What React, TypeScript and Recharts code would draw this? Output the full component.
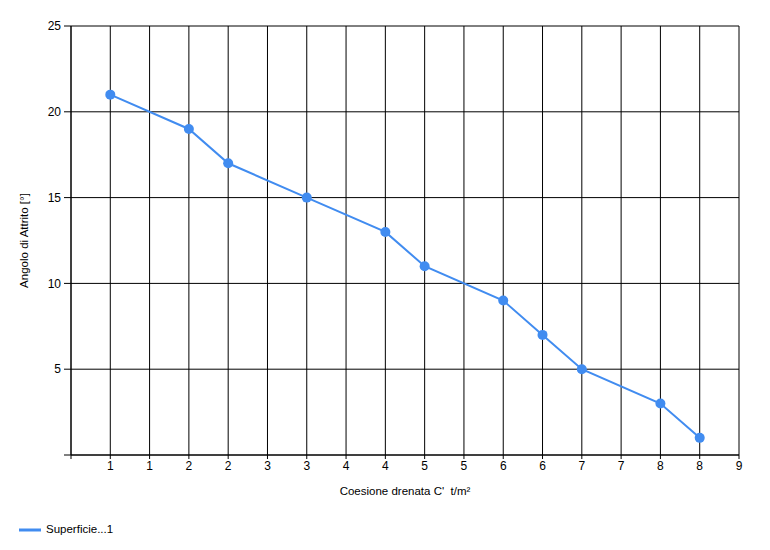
import React from 'react';
import { LineChart, Line, XAxis, YAxis, CartesianGrid, Legend } from 'recharts';

const xValues = [0.5, 1.5, 2, 3, 4, 4.5, 5.5, 6, 6.5, 7.5, 8];
const yValues = [21, 19, 17, 15, 13, 11, 9, 7, 5, 3, 1];
const xTicks = [0, 0.5, 1, 1.5, 2, 2.5, 3, 3.5, 4, 4.5, 5, 5.5, 6, 6.5, 7, 7.5, 8, 8.5];
const yTicks = [0, 5, 10, 15, 20, 25];
const seriesName = 'Superficie...1';
const xTitle = "Coesione drenata C'  t/m²";
const yTitle = 'Angolo di Attrito [°]';

const data = xValues.map((x, i) => ({ x, y: yValues[i] }));

const FONT = '"Liberation Sans", Arial, sans-serif';
const COLOR = '#418CF0';

const LegendContent = () => (
  <div style={{ height: 30, position: 'relative', fontFamily: FONT, fontSize: 11.5, color: '#000' }}>
    <svg width={30} height={10} style={{ position: 'absolute', left: 18, top: 5 }}>
      <line x1={1} y1={5} x2={23} y2={5} stroke={COLOR} strokeWidth={3} />
    </svg>
    <span style={{ position: 'absolute', left: 46, top: 3 }}>{seriesName}</span>
  </div>
);

export default function App() {
  return (
    <div style={{ position: 'absolute', left: 0, top: 0, width: 770, height: 550, background: '#fff' }}>
      <LineChart
        width={770}
        height={550}
        data={data}
        margin={{ top: 26, right: 31, left: 0, bottom: 0 }}
      >
        <CartesianGrid stroke="#000" strokeWidth={1} />
        <XAxis
          type="number"
          dataKey="x"
          domain={[0, 8.5]}
          ticks={xTicks}
          interval={0}
          height={65}
          tickSize={4}
          tickMargin={2}
          tickFormatter={(v: number) => (v === 0 ? '' : String(Math.round(v)))}
          tick={{ fill: '#000', fontSize: 12, fontFamily: FONT }}
          axisLine={{ stroke: '#000' }}
          tickLine={{ stroke: '#000' }}
          label={{
            content: (props: any) => {
              const vb = props.viewBox || {};
              return (
                <text
                  x={vb.x + vb.width / 2}
                  y={vb.y + 40}
                  textAnchor="middle"
                  fontSize={11.5}
                  fontFamily={FONT}
                  fill="#000"
                  style={{ whiteSpace: 'pre' }}
                >
                  {xTitle}
                </text>
              );
            },
          }}
        />
        <YAxis
          type="number"
          dataKey="y"
          domain={[0, 25]}
          ticks={yTicks}
          interval={0}
          width={71}
          tickSize={7}
          tickMargin={3}
          tickFormatter={(v: number) => (v === 0 ? '' : String(v))}
          tick={{ fill: '#000', fontSize: 12, fontFamily: FONT }}
          axisLine={{ stroke: '#000' }}
          tickLine={{ stroke: '#000' }}
          label={{
            content: (props: any) => {
              const vb = props.viewBox || {};
              const cx = 28;
              const cy = vb.y + vb.height / 2;
              return (
                <text
                  x={cx}
                  y={cy}
                  textAnchor="middle"
                  fontSize={11.5}
                  fontFamily={FONT}
                  fill="#000"
                  transform={`rotate(-90 ${cx} ${cy})`}
                >
                  {yTitle}
                </text>
              );
            },
          }}
        />
        <Legend verticalAlign="bottom" align="left" height={30} content={<LegendContent />} />
        <Line
          type="linear"
          dataKey="y"
          name={seriesName}
          stroke={COLOR}
          strokeWidth={2}
          dot={{ r: 5, fill: COLOR, stroke: COLOR, strokeWidth: 0 }}
          activeDot={false}
          isAnimationActive={false}
        />
      </LineChart>
    </div>
  );
}
